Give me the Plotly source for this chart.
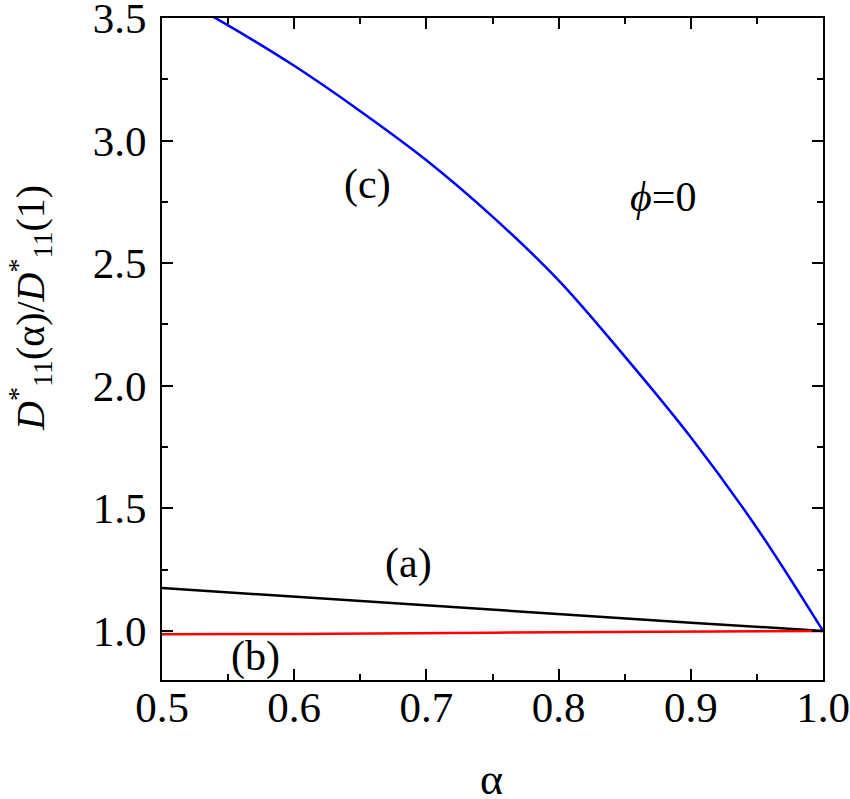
import plotly.graph_objects as go

# Data
alpha_c = [0.50, 0.55, 0.60, 0.65, 0.70, 0.75, 0.80, 0.85, 0.90, 0.95, 1.00]
curve_c = [3.62, 3.47, 3.305, 3.12, 2.92, 2.69, 2.43, 2.12, 1.79, 1.42, 1.00]

alpha_a = [0.50, 0.604, 0.7557, 0.90, 1.00]
curve_a = [1.175, 1.138, 1.083, 1.034, 1.00]

alpha_b = [0.50, 0.60, 0.75, 1.00]
curve_b = [0.987, 0.988, 0.993, 1.00]

x_ticks = [0.5, 0.6, 0.7, 0.8, 0.9, 1.0]
x_tick_labels = ["0.5", "0.6", "0.7", "0.8", "0.9", "1.0"]
y_ticks = [1.0, 1.5, 2.0, 2.5, 3.0, 3.5]
y_tick_labels = ["1.0", "1.5", "2.0", "2.5", "3.0", "3.5"]

FONT = "Liberation Serif, Times New Roman, serif"

fig = go.Figure()
fig.add_trace(go.Scatter(x=alpha_a, y=curve_a, mode="lines", line=dict(color="black", width=2.5), showlegend=False))
fig.add_trace(go.Scatter(x=alpha_b, y=curve_b, mode="lines", line=dict(color="#ff0000", width=2.5), showlegend=False))
fig.add_trace(go.Scatter(x=alpha_c, y=curve_c, mode="lines", line=dict(color="#0000ff", width=2.5, shape="spline", smoothing=1.0), showlegend=False))

axis_common = dict(
    showgrid=False, zeroline=False, showline=True, linecolor="black", linewidth=2,
    mirror="ticks", ticks="inside", ticklen=11, tickwidth=2, tickcolor="black",
    tickfont=dict(family=FONT, size=43, color="black"),
    automargin=False, ticklabeloverflow="allow",
)

fig.update_xaxes(range=[0.5, 1.0], tickvals=x_ticks, ticktext=x_tick_labels,
                 minor=dict(dtick=0.05, ticks="inside", ticklen=6, tickwidth=2, tickcolor="black"),
                 ticklabelstandoff=-12, **axis_common)
fig.update_yaxes(range=[0.8, 3.5], tickvals=y_ticks, ticktext=y_tick_labels,
                 minor=dict(dtick=0.25, ticks="inside", ticklen=6, tickwidth=2, tickcolor="black"),
                 ticklabelstandoff=5, **axis_common)

ann_font = dict(family=FONT, size=42, color="black")
for xx, yy, tt in [(0.6555, 2.82, "(c)"), (0.6864, 1.276, "(a)"), (0.571, 0.895, "(b)"),
                   (0.879, 2.771, "<i>ϕ</i>=0")]:
    fig.add_annotation(x=xx, y=yy, text=tt, showarrow=False, font=ann_font,
                       xanchor="center", yanchor="middle")

fig.add_annotation(xref="paper", yref="paper", x=0.499, y=-0.150, text="α",
                   xanchor="center", yanchor="middle",
                   showarrow=False, font=dict(family=FONT, size=44, color="black"))
fig.add_annotation(xref="paper", yref="paper", x=-0.1997, y=0.562, textangle=-90,
                   xanchor="center", yanchor="middle",
                   text="<i>D</i><sup>*</sup><sub>11</sub>(α)/<i>D</i><sup>*</sup><sub>11</sub>(1)",
                   showarrow=False, font=dict(family=FONT, size=40, color="black"))

fig.update_layout(
    width=850, height=799,
    margin=dict(l=162, r=27, t=18, b=119),
    paper_bgcolor="white", plot_bgcolor="white",
)

fig.write_html("out.html", config={"displayModeBar": False},
               post_script="document.body.style.margin='0';document.body.style.overflow='hidden';")
